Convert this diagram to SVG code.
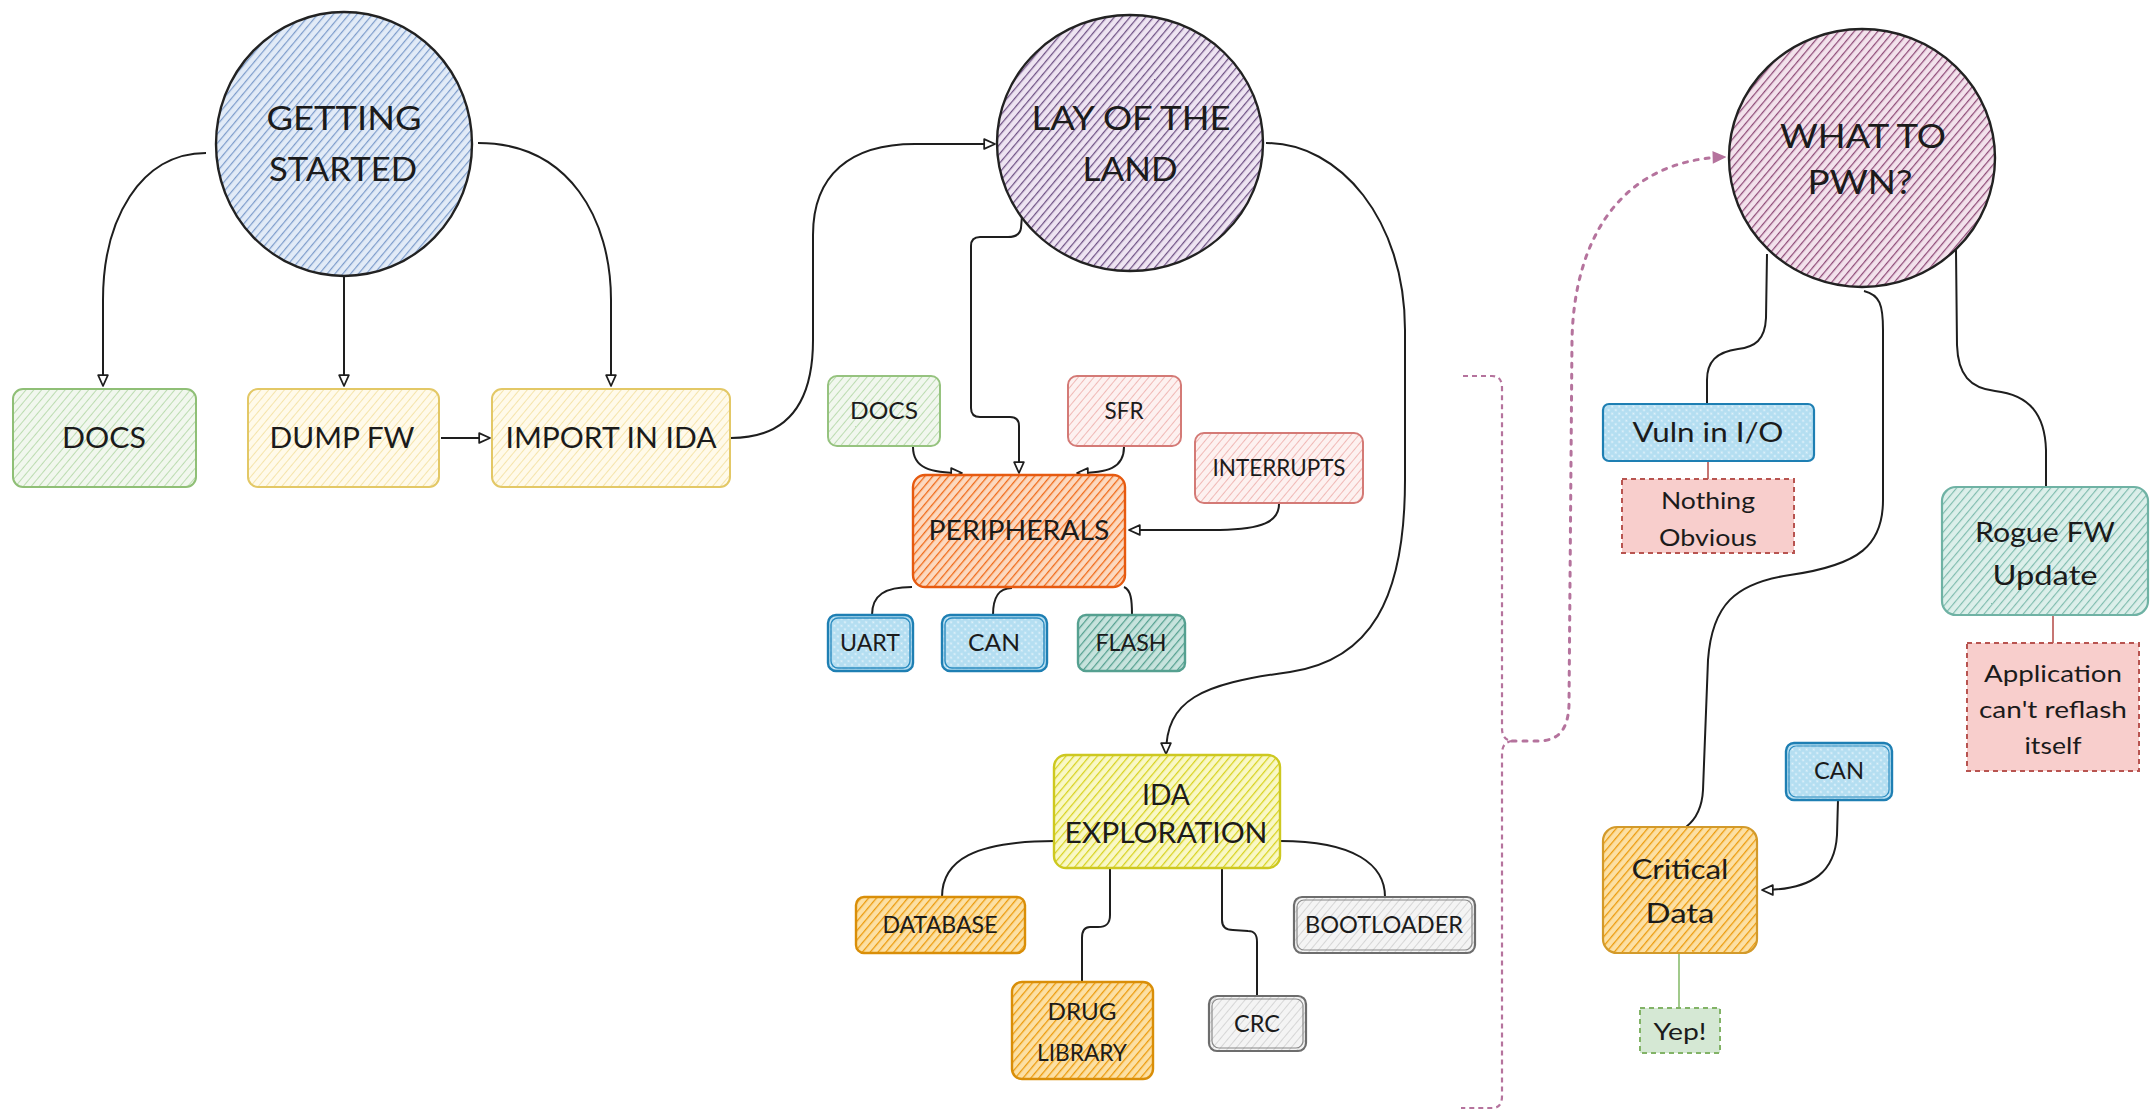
<svg xmlns="http://www.w3.org/2000/svg" width="2153" height="1113" viewBox="0 0 2153 1113">
  <style>
    .t { font-family: Lato, "Open Sans", "DejaVu Sans", sans-serif; fill: #1b1b1b; text-anchor: middle; }
    .big { font-size: 32px; }
    .mid { font-size: 28px; }
    .sm { font-size: 23px; }
    .mix { font-size: 26px; }
    .conn { fill: none; stroke: #1e1e1e; stroke-width: 2; }
    .ring { stroke: #222; stroke-width: 2.4; }
    .dash-red { fill: #f8cecc; stroke: #b85450; stroke-width: 2; stroke-dasharray: 5 4; }
    .dash-green { fill: #d5e8d4; stroke: #82b366; stroke-width: 2; stroke-dasharray: 5 4; }
  </style>
  <defs>
    <!-- diagonal hatch fills -->
    <pattern id="hBlue" width="6" height="6" patternUnits="userSpaceOnUse" patternTransform="rotate(40)">
      <rect width="6" height="6" fill="#e2ebf7"/><line x1="0" y1="0" x2="0" y2="6" stroke="#7d9ccb" stroke-width="2.4"/>
    </pattern>
    <pattern id="hPurple" width="6" height="6" patternUnits="userSpaceOnUse" patternTransform="rotate(40)">
      <rect width="6" height="6" fill="#eee4f2"/><line x1="0" y1="0" x2="0" y2="6" stroke="#6f5285" stroke-width="2.5"/>
    </pattern>
    <pattern id="hPink" width="6" height="6" patternUnits="userSpaceOnUse" patternTransform="rotate(40)">
      <rect width="6" height="6" fill="#f3e2ec"/><line x1="0" y1="0" x2="0" y2="6" stroke="#8f4c78" stroke-width="2.5"/>
    </pattern>
    <pattern id="hGreen" width="6" height="6" patternUnits="userSpaceOnUse" patternTransform="rotate(40)">
      <rect width="6" height="6" fill="#f1f7ee"/><line x1="0" y1="0" x2="0" y2="6" stroke="#bcdcb1" stroke-width="2"/>
    </pattern>
    <pattern id="hCream" width="6" height="6" patternUnits="userSpaceOnUse" patternTransform="rotate(40)">
      <rect width="6" height="6" fill="#fffaea"/><line x1="0" y1="0" x2="0" y2="6" stroke="#f5e4ab" stroke-width="2"/>
    </pattern>
    <pattern id="hRed" width="6" height="6" patternUnits="userSpaceOnUse" patternTransform="rotate(40)">
      <rect width="6" height="6" fill="#fdf1f0"/><line x1="0" y1="0" x2="0" y2="6" stroke="#f0b9b6" stroke-width="2"/>
    </pattern>
    <pattern id="hOrange" width="6" height="6" patternUnits="userSpaceOnUse" patternTransform="rotate(40)">
      <rect width="6" height="6" fill="#fcd9c0"/><line x1="0" y1="0" x2="0" y2="6" stroke="#f06a18" stroke-width="2.6"/>
    </pattern>
    <pattern id="hTeal" width="6" height="6" patternUnits="userSpaceOnUse" patternTransform="rotate(40)">
      <rect width="6" height="6" fill="#c7e3dd"/><line x1="0" y1="0" x2="0" y2="6" stroke="#55a090" stroke-width="2.5"/>
    </pattern>
    <pattern id="hTealLight" width="6" height="6" patternUnits="userSpaceOnUse" patternTransform="rotate(40)">
      <rect width="6" height="6" fill="#dcefea"/><line x1="0" y1="0" x2="0" y2="6" stroke="#7fbcae" stroke-width="2.3"/>
    </pattern>
    <pattern id="hYellow" width="6" height="6" patternUnits="userSpaceOnUse" patternTransform="rotate(40)">
      <rect width="6" height="6" fill="#f9f8c6"/><line x1="0" y1="0" x2="0" y2="6" stroke="#d8d21e" stroke-width="2.5"/>
    </pattern>
    <pattern id="hAmber" width="6" height="6" patternUnits="userSpaceOnUse" patternTransform="rotate(40)">
      <rect width="6" height="6" fill="#fce0a4"/><line x1="0" y1="0" x2="0" y2="6" stroke="#ec9b0c" stroke-width="2.6"/>
    </pattern>
    <pattern id="hGray" width="6" height="6" patternUnits="userSpaceOnUse" patternTransform="rotate(40)">
      <rect width="6" height="6" fill="#f4f4f4"/><line x1="0" y1="0" x2="0" y2="6" stroke="#d6d6d6" stroke-width="2"/>
    </pattern>
    <!-- dotted fill for the blue boxes -->
    <pattern id="dBlue" width="5" height="5" patternUnits="userSpaceOnUse" patternTransform="rotate(45)">
      <rect width="5" height="5" fill="#b4def1"/><circle cx="2.5" cy="2.5" r="1.1" fill="#e6f4fb"/>
    </pattern>
    <marker id="arr" viewBox="0 0 12 12" refX="11" refY="6" markerWidth="13" markerHeight="13" markerUnits="userSpaceOnUse" orient="auto">
      <path d="M1,1.5 L11,6 L1,10.5 Z" fill="#fff" stroke="#1e1e1e" stroke-width="1.6" stroke-linejoin="round"/>
    </marker>
    <marker id="arrPink" viewBox="0 0 12 12" refX="11" refY="6" markerWidth="14" markerHeight="14" markerUnits="userSpaceOnUse" orient="auto">
      <path d="M1,1.5 L11,6 L1,10.5 Z" fill="#b5739d" stroke="#b5739d" stroke-width="1.2"/>
    </marker>
  </defs>

  <rect width="2153" height="1113" fill="#ffffff"/>

  <!-- connectors -->
  <g id="connectors">
    <path class="conn" d="M206,153 C140,153 103,220 103,300 L103,386" marker-end="url(#arr)"/>
    <path class="conn" d="M344,277 L344,386" marker-end="url(#arr)"/>
    <path class="conn" d="M478,143 C570,143 611,220 611,300 L611,386" marker-end="url(#arr)"/>
    <path class="conn" d="M441,438 L490,438" marker-end="url(#arr)"/>
    <path class="conn" d="M731,438 C790,438 813,400 813,340 L813,235 C813,175 850,144 915,144 L995,144" marker-end="url(#arr)"/>
    <path class="conn" d="M1022,216 L1021,228 C1020,235 1015,237 1008,237 L980,237 C974,237 971,240 971,246 L971,408 C971,414 974,417 980,417 L1010,417 C1016,417 1019,420 1019,426 L1019,473" marker-end="url(#arr)"/>
    <path class="conn" d="M913,447 C913,468 930,473 962,473" marker-end="url(#arr)"/>
    <path class="conn" d="M1124,447 C1124,468 1108,473 1077,473" marker-end="url(#arr)"/>
    <path class="conn" d="M1279,504 C1279,522 1262,529 1220,530 L1129,530" marker-end="url(#arr)"/>
    <path class="conn" d="M912,587 C885,587 872,595 872,615"/>
    <path class="conn" d="M1012,588 C998,588 993,598 993,615"/>
    <path class="conn" d="M1124,587 C1131,590 1132,600 1132,615"/>
    <path class="conn" d="M1266,143 C1340,143 1405,220 1405,330 L1405,480 C1405,600 1370,660 1290,672 C1200,684 1166,700 1166,754" marker-end="url(#arr)"/>
    <path class="conn" d="M1055,841 C975,841 942,860 942,897"/>
    <path class="conn" d="M1110,868 L1110,915 C1110,924 1106,927 1098,927 L1090,927 C1084,927 1082,931 1082,938 L1082,982"/>
    <path class="conn" d="M1222,868 L1222,920 C1222,927 1226,930 1233,930 L1248,931 C1255,931 1257,935 1257,942 L1257,996"/>
    <path class="conn" d="M1280,841 C1355,841 1385,865 1385,897"/>
    <!-- curly bracket and the dotted link into the last topic -->
    <path d="M1463,376 L1492,376 C1499,376 1502,380 1502,388 L1502,728 C1502,736 1505,740 1512,741 C1505,742 1502,746 1502,754 L1502,1096 C1502,1104 1499,1108 1492,1108 L1461,1108" fill="none" stroke="#b5739d" stroke-width="2.2" stroke-dasharray="5 4"/>
    <path d="M1512,741 L1538,741 C1560,741 1568,728 1569,705 L1572,340 C1574,240 1620,160 1725,157" fill="none" stroke="#b5739d" stroke-width="3" stroke-dasharray="4 7" stroke-linecap="round" marker-end="url(#arrPink)"/>
    <path class="conn" d="M1767,254 L1766,318 C1765,340 1755,347 1738,349 C1716,352 1707,362 1707,380 L1707,404"/>
    <path d="M1708,461 L1708,479" stroke="#b85450" stroke-width="1.6"/>
    <path class="conn" d="M1864,291 C1880,295 1883,305 1883,330 L1883,500 C1883,545 1860,565 1790,575 C1735,583 1712,605 1708,660 L1703,790 C1702,810 1695,820 1686,827"/>
    <path class="conn" d="M1956,250 L1957,345 C1958,375 1970,388 1995,391 C2030,395 2045,415 2046,450 L2046,487"/>
    <path d="M2053,615 L2053,643" stroke="#b85450" stroke-width="1.6"/>
    <path class="conn" d="M1838,800 L1837,835 C1835,870 1815,890 1762,890" marker-end="url(#arr)"/>
    <path d="M1679,953 L1679,1008" stroke="#97c57f" stroke-width="1.8"/>
  </g>

  <!-- topics -->
  <g id="getting-started">
    <ellipse class="ring" cx="344" cy="144" rx="128" ry="132" fill="url(#hBlue)"/>
    <text class="t big" x="344" y="130" textLength="155" lengthAdjust="spacingAndGlyphs">GETTING</text>
    <text class="t big" x="343" y="181" textLength="148" lengthAdjust="spacingAndGlyphs">STARTED</text>
  </g>
  <g id="lay-of-the-land">
    <ellipse class="ring" cx="1130" cy="143" rx="133" ry="128" fill="url(#hPurple)"/>
    <text class="t big" x="1131" y="130" textLength="199" lengthAdjust="spacingAndGlyphs">LAY OF THE</text>
    <text class="t big" x="1130" y="181" textLength="95" lengthAdjust="spacingAndGlyphs">LAND</text>
  </g>
  <g id="what-to-pwn">
    <ellipse class="ring" cx="1862" cy="158" rx="133" ry="129" fill="url(#hPink)"/>
    <text class="t big" x="1863" y="148" textLength="166" lengthAdjust="spacingAndGlyphs">WHAT TO</text>
    <text class="t big" x="1860" y="194" textLength="105" lengthAdjust="spacingAndGlyphs">PWN?</text>
  </g>

  <!-- first column -->
  <g id="docs">
    <rect x="13" y="389" width="183" height="98" rx="10" fill="url(#hGreen)" stroke="#8fbf76" stroke-width="2"/>
    <text class="t mid" x="104" y="448" textLength="84" lengthAdjust="spacingAndGlyphs">DOCS</text>
  </g>
  <g id="dump-fw">
    <rect x="248" y="389" width="191" height="98" rx="10" fill="url(#hCream)" stroke="#e3c866" stroke-width="2"/>
    <text class="t mid" x="342" y="448" textLength="145" lengthAdjust="spacingAndGlyphs">DUMP FW</text>
  </g>
  <g id="import-in-ida">
    <rect x="492" y="389" width="238" height="98" rx="10" fill="url(#hCream)" stroke="#e3c866" stroke-width="2"/>
    <text class="t mid" x="611" y="448" textLength="211" lengthAdjust="spacingAndGlyphs">IMPORT IN IDA</text>
  </g>

  <!-- peripherals cluster -->
  <g id="docs-small">
    <rect x="828" y="376" width="112" height="70" rx="9" fill="url(#hGreen)" stroke="#96c37f" stroke-width="2"/>
    <text class="t sm" x="884" y="419" textLength="68" lengthAdjust="spacingAndGlyphs">DOCS</text>
  </g>
  <g id="sfr">
    <rect x="1068" y="376" width="113" height="70" rx="9" fill="url(#hRed)" stroke="#d47a76" stroke-width="2"/>
    <text class="t sm" x="1124" y="419" textLength="39" lengthAdjust="spacingAndGlyphs">SFR</text>
  </g>
  <g id="interrupts">
    <rect x="1195" y="433" width="168" height="70" rx="9" fill="url(#hRed)" stroke="#d47a76" stroke-width="2"/>
    <text class="t sm" x="1279" y="476" textLength="133" lengthAdjust="spacingAndGlyphs">INTERRUPTS</text>
  </g>
  <g id="peripherals">
    <rect x="913" y="475" width="212" height="112" rx="12" fill="url(#hOrange)" stroke="#e65a10" stroke-width="2.4"/>
    <text class="t" style="font-size:26px" x="1019" y="540" textLength="181" lengthAdjust="spacingAndGlyphs">PERIPHERALS</text>
  </g>
  <g id="uart">
    <rect x="828" y="615" width="85" height="56" rx="8" fill="url(#dBlue)" stroke="#1e7fb3" stroke-width="2.4"/>
    <rect x="831" y="618" width="79" height="50" rx="7" fill="none" stroke="#2b8cc0" stroke-width="1.4"/>
    <text class="t sm" x="870" y="651" textLength="60" lengthAdjust="spacingAndGlyphs">UART</text>
  </g>
  <g id="can">
    <rect x="942" y="615" width="105" height="56" rx="8" fill="url(#dBlue)" stroke="#1e7fb3" stroke-width="2.4"/>
    <rect x="945" y="618" width="99" height="50" rx="7" fill="none" stroke="#2b8cc0" stroke-width="1.4"/>
    <text class="t sm" x="994" y="651" textLength="52" lengthAdjust="spacingAndGlyphs">CAN</text>
  </g>
  <g id="flash">
    <rect x="1078" y="615" width="107" height="56" rx="8" fill="url(#hTeal)" stroke="#55a090" stroke-width="2.4"/>
    <text class="t sm" x="1131" y="651" textLength="71" lengthAdjust="spacingAndGlyphs">FLASH</text>
  </g>

  <!-- IDA exploration cluster -->
  <g id="ida-exploration">
    <rect x="1054" y="755" width="226" height="113" rx="12" fill="url(#hYellow)" stroke="#cdc820" stroke-width="2.4"/>
    <text class="t mid" x="1166" y="805" textLength="48" lengthAdjust="spacingAndGlyphs">IDA</text>
    <text class="t mid" x="1166" y="843" textLength="203" lengthAdjust="spacingAndGlyphs">EXPLORATION</text>
  </g>
  <g id="database">
    <rect x="856" y="897" width="169" height="56" rx="8" fill="url(#hAmber)" stroke="#d98e08" stroke-width="2.4"/>
    <text class="t sm" x="940" y="933" textLength="115" lengthAdjust="spacingAndGlyphs">DATABASE</text>
  </g>
  <g id="drug-library">
    <rect x="1012" y="982" width="141" height="97" rx="10" fill="url(#hAmber)" stroke="#d98e08" stroke-width="2.4"/>
    <text class="t sm" x="1082" y="1020" textLength="69" lengthAdjust="spacingAndGlyphs">DRUG</text>
    <text class="t sm" x="1082" y="1061" textLength="90" lengthAdjust="spacingAndGlyphs">LIBRARY</text>
  </g>
  <g id="crc">
    <rect x="1209" y="996" width="97" height="55" rx="8" fill="url(#hGray)" stroke="#6d6d6d" stroke-width="2.2"/>
    <rect x="1212" y="999" width="91" height="49" rx="7" fill="none" stroke="#8a8a8a" stroke-width="1.2"/>
    <text class="t sm" x="1257" y="1032" textLength="46" lengthAdjust="spacingAndGlyphs">CRC</text>
  </g>
  <g id="bootloader">
    <rect x="1294" y="897" width="181" height="56" rx="8" fill="url(#hGray)" stroke="#6d6d6d" stroke-width="2.2"/>
    <rect x="1297" y="900" width="175" height="50" rx="7" fill="none" stroke="#8a8a8a" stroke-width="1.2"/>
    <text class="t sm" x="1384" y="933" textLength="158" lengthAdjust="spacingAndGlyphs">BOOTLOADER</text>
  </g>

  <!-- targets -->
  <g id="vuln-in-io">
    <rect x="1603" y="404" width="211" height="57" rx="6" fill="url(#dBlue)" stroke="#1e7fb3" stroke-width="2.2"/>
    <text class="t mix" x="1708" y="442" textLength="151" lengthAdjust="spacingAndGlyphs">Vuln in I/O</text>
  </g>
  <g id="nothing-obvious">
    <rect class="dash-red" x="1622" y="479" width="172" height="74"/>
    <text class="t" style="font-size:24px" x="1708" y="509" textLength="94" lengthAdjust="spacingAndGlyphs">Nothing</text>
    <text class="t" style="font-size:24px" x="1708" y="546" textLength="98" lengthAdjust="spacingAndGlyphs">Obvious</text>
  </g>
  <g id="rogue-fw-update">
    <rect x="1942" y="487" width="206" height="128" rx="14" fill="url(#hTealLight)" stroke="#6fb2a4" stroke-width="2.2"/>
    <text class="t mix" x="2045" y="542" textLength="140" lengthAdjust="spacingAndGlyphs">Rogue FW</text>
    <text class="t mix" x="2045" y="585" textLength="105" lengthAdjust="spacingAndGlyphs">Update</text>
  </g>
  <g id="cant-reflash">
    <rect class="dash-red" x="1967" y="643" width="172" height="128"/>
    <text class="t" style="font-size:24px" x="2053" y="682" textLength="138" lengthAdjust="spacingAndGlyphs">Application</text>
    <text class="t" style="font-size:24px" x="2053" y="718" textLength="148" lengthAdjust="spacingAndGlyphs">can't reflash</text>
    <text class="t" style="font-size:24px" x="2053" y="754" textLength="57" lengthAdjust="spacingAndGlyphs">itself</text>
  </g>
  <g id="can-bus">
    <rect x="1786" y="743" width="106" height="57" rx="8" fill="url(#dBlue)" stroke="#1e7fb3" stroke-width="2.4"/>
    <rect x="1789" y="746" width="100" height="51" rx="7" fill="none" stroke="#2b8cc0" stroke-width="1.2"/>
    <text class="t sm" x="1839" y="779" textLength="50" lengthAdjust="spacingAndGlyphs">CAN</text>
  </g>
  <g id="critical-data">
    <rect x="1603" y="827" width="154" height="126" rx="14" fill="url(#hAmber)" stroke="#d39a2a" stroke-width="2.2"/>
    <text class="t mix" x="1680" y="879" textLength="97" lengthAdjust="spacingAndGlyphs">Critical</text>
    <text class="t mix" x="1680" y="923" textLength="69" lengthAdjust="spacingAndGlyphs">Data</text>
  </g>
  <g id="yep">
    <rect class="dash-green" x="1640" y="1008" width="80" height="45"/>
    <text class="t" style="font-size:24px" x="1680" y="1040" textLength="53" lengthAdjust="spacingAndGlyphs">Yep!</text>
  </g>
</svg>
